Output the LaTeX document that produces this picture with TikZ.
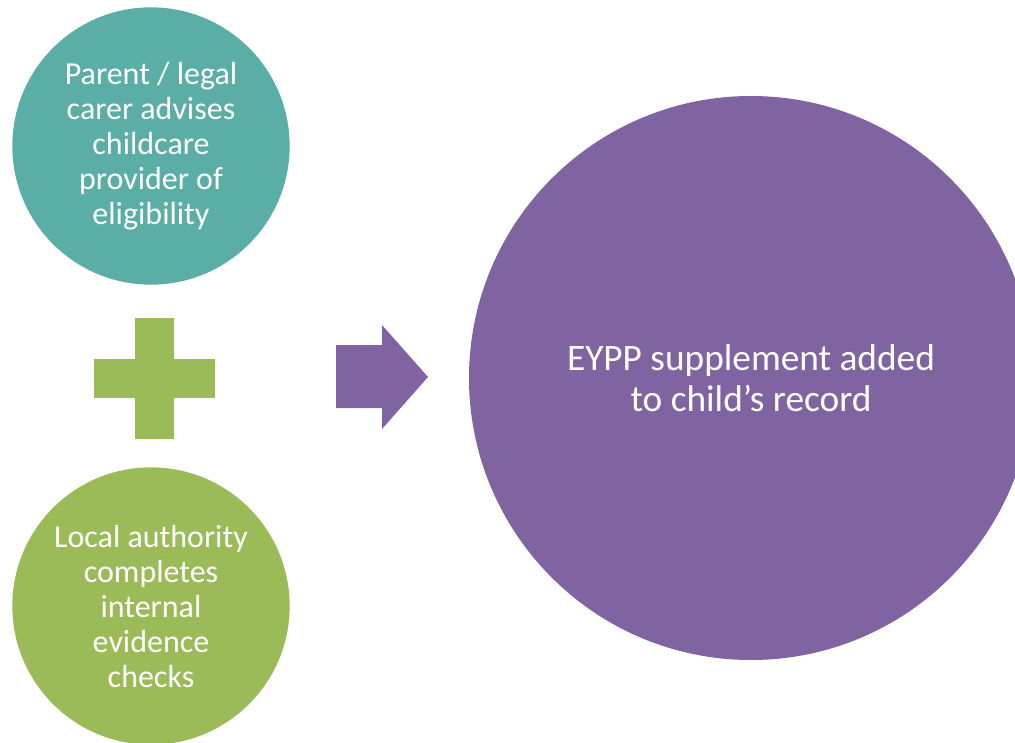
\documentclass[tikz,border=0pt]{standalone}
\usepackage{fontspec}
\setmainfont{Carlito}
\definecolor{eyppteal}{HTML}{5BAEA5}
\definecolor{eyppgreen}{HTML}{9BBB59}
\definecolor{eypppurple}{HTML}{8064A2}
\begin{document}
\begin{tikzpicture}[x=0.75pt, y=-0.75pt,
  every node/.style={circle, inner sep=0pt, text=white, align=center},
  small/.style={minimum size=208pt, font=\fontsize{24}{26.25}\selectfont},
  big/.style={minimum size=423pt, font=\fontsize{28}{30.75}\selectfont}]
  \useasboundingbox (0,0) rectangle (1015,743);
  \clip (0,0) rectangle (1015,743);

  % left circles
  \node (parent) at (151,146) [small, fill=eyppteal]
    {Parent / legal\\carer advises\\childcare\\provider of\\eligibility};
  \node (authority) at (151,606) [small, fill=eyppgreen]
    {Local authority\\completes\\internal\\evidence\\checks};

  % "+" sign
  \fill[eyppgreen] (135,318) rectangle (174,439);
  \fill[eyppgreen] (94,359) rectangle (215,398);

  % arrow
  \fill[eypppurple] (336,345) -- (382,345) -- (382,325) -- (428,377)
    -- (382,429) -- (382,408) -- (336,408) -- cycle;

  % result circle
  \node (record) at (751,378) [big, fill=eypppurple]
    {EYPP supplement added\\to child’s record};
\end{tikzpicture}
\end{document}
